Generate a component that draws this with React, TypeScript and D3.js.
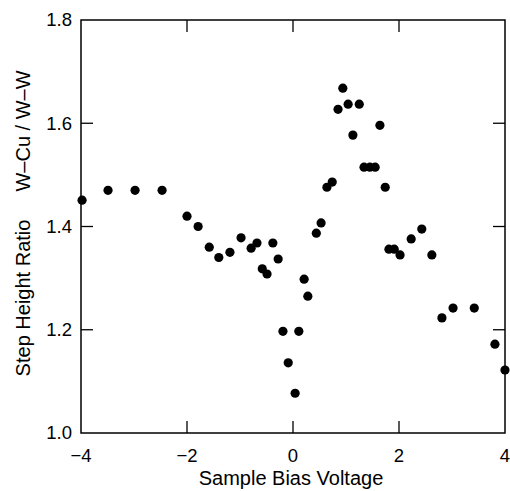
import React from 'react';
import * as d3 from 'd3';

// Sample bias voltage (V) and step height ratio (W-Cu / W-W)
const voltages = [
  -3.98, -3.49, -2.98, -2.47, -2.0, -1.79, -1.58, -1.4, -1.19, -0.98,
  -0.79, -0.68, -0.58, -0.49, -0.38, -0.28, -0.19, -0.09, 0.04, 0.11,
  0.21, 0.28, 0.44, 0.53, 0.64, 0.74, 0.85, 0.94, 1.04, 1.13,
  1.25, 1.34, 1.45, 1.55, 1.64, 1.74, 1.81, 1.91, 2.02, 2.23,
  2.43, 2.62, 2.81, 3.02, 3.42, 3.81, 4.0,
];
const ratios = [
  1.451, 1.47, 1.47, 1.47, 1.42, 1.4, 1.36, 1.34, 1.35, 1.378,
  1.358, 1.368, 1.318, 1.308, 1.368, 1.337, 1.197, 1.136, 1.077, 1.197,
  1.298, 1.265, 1.387, 1.407, 1.476, 1.486, 1.627, 1.668, 1.637, 1.577,
  1.637, 1.515, 1.515, 1.515, 1.596, 1.476, 1.356, 1.356, 1.345, 1.376,
  1.395, 1.345, 1.223, 1.242, 1.242, 1.172, 1.122,
];

const xTicks = [-4, -2, 0, 2, 4];
const yTicks = [1.0, 1.2, 1.4, 1.6, 1.8];

const W = 510;
const H = 491;
const margin = { top: 20, right: 5, bottom: 58, left: 81 };
const font = 'Liberation Sans, Arial, Helvetica, sans-serif';

export default function App() {
  const x = d3.scaleLinear().domain([-4, 4]).range([margin.left, W - margin.right]);
  const y = d3.scaleLinear().domain([1.0, 1.8]).range([H - margin.bottom, margin.top]);
  const [x0, x1] = x.range();
  const [y0, y1] = y.range();
  const tickLen = 12;
  const fmtX = (d: number) => (d < 0 ? `\u2212${Math.abs(d)}` : `${d}`);

  return (
    <svg width={W} height={H} style={{ position: 'absolute', left: 0, top: 0, background: '#fff' }}>
      {/* frame */}
      <rect x={x0} y={y1} width={x1 - x0} height={y0 - y1} fill="none" stroke="#000" strokeWidth={1.5} />

      {/* inward ticks */}
      {xTicks.slice(1, -1).map((t) => (
        <g key={`xt${t}`} stroke="#000" strokeWidth={1.3}>
          <line x1={x(t)} x2={x(t)} y1={y0} y2={y0 - tickLen} />
          <line x1={x(t)} x2={x(t)} y1={y1} y2={y1 + tickLen} />
        </g>
      ))}
      {yTicks.slice(1, -1).map((t) => (
        <g key={`yt${t}`} stroke="#000" strokeWidth={1.3}>
          <line x1={x0} x2={x0 + tickLen} y1={y(t)} y2={y(t)} />
          <line x1={x1} x2={x1 - tickLen} y1={y(t)} y2={y(t)} />
        </g>
      ))}

      {/* tick labels */}
      {xTicks.map((t) => (
        <text key={`xl${t}`} x={x(t)} y={y0 + 29} textAnchor="middle" fontFamily={font} fontSize={18.5}>
          {fmtX(t)}
        </text>
      ))}
      {yTicks.map((t) => (
        <text key={`yl${t}`} x={x0 - 9} y={y(t)} dy="0.35em" textAnchor="end" fontFamily={font} fontSize={18.5}>
          {t.toFixed(1)}
        </text>
      ))}

      {/* axis titles */}
      <text x={(x0 + x1) / 2 - 2} y={485} textAnchor="middle" fontFamily={font} fontSize={20}>
        Sample Bias Voltage
      </text>
      <text transform="translate(30,298) rotate(-90)" textAnchor="middle" fontFamily={font} fontSize={20}>
        Step Height Ratio
      </text>
      <text transform="translate(30,131) rotate(-90)" textAnchor="middle" fontFamily={font} fontSize={20}>
        W–Cu / W–W
      </text>

      {/* data points */}
      {voltages.map((v, i) => (
        <circle key={i} cx={x(v)} cy={y(ratios[i])} r={4.6} fill="#000" />
      ))}
    </svg>
  );
}
